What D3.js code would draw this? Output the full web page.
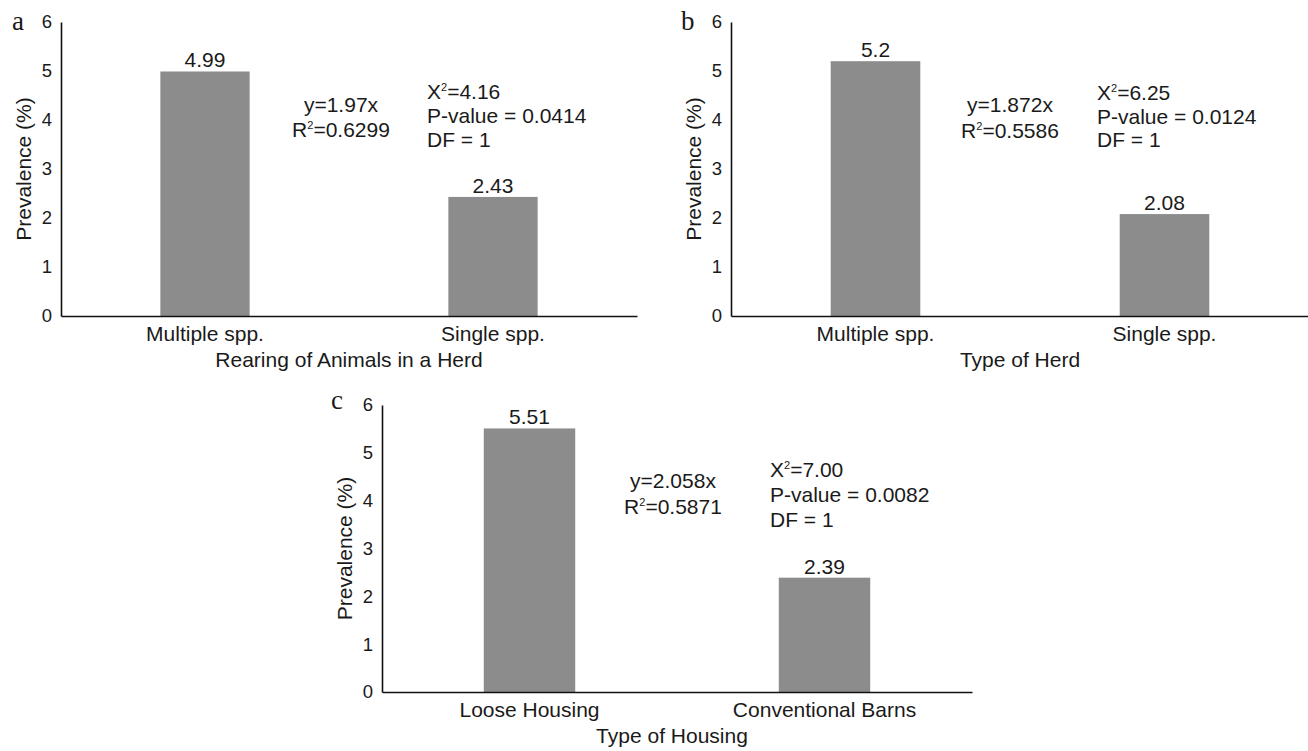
<!DOCTYPE html>
<html>
<head>
<meta charset="utf-8">
<script src="https://cdn.jsdelivr.net/npm/d3@7"></script>
<style>
	body { margin: 0; background: #fff; }
	svg text { font-family: 'Liberation Sans', Arial, sans-serif; fill: #1a1a1a; }
	.panel-letter { font-family: 'Liberation Serif', 'Times New Roman', serif; }
</style>
</head>
<body>
<div id="chart"></div>
<script>
// values
const yTicks = [0, 1, 2, 3, 4, 5, 6];

const categoriesA = ['Multiple spp.', 'Single spp.'];
const valuesA = [4.99, 2.43];
const regressionA = ['y=1.97x', '0.6299'];
const statsA = ['4.16', '0.0414', '1'];

const categoriesB = ['Multiple spp.', 'Single spp.'];
const valuesB = [5.2, 2.08];
const regressionB = ['y=1.872x', '0.5586'];
const statsB = ['6.25', '0.0124', '1'];

const categoriesC = ['Loose Housing', 'Conventional Barns'];
const valuesC = [5.51, 2.39];
const regressionC = ['y=2.058x', '0.5871'];
const statsC = ['7.00', '0.0082', '1'];

const xTitles = ['Rearing of Animals in a Herd', 'Type of Herd', 'Type of Housing'];
const panelLetters = ['a', 'b', 'c'];

const svg = d3.select('#chart').append('svg').attr('width', 1308).attr('height', 751);

function drawPanel(opts) {
	const x = d3
		.scaleBand()
		.domain(opts.categories)
		.range([opts.left, opts.right])
		.paddingInner(0.69)
		.paddingOuter(0.345);
	const y = d3.scaleLinear().domain([0, 6]).range([opts.bottom, opts.top]);
	const g = svg.append('g');

	g.selectAll('rect.bar')
		.data(opts.values)
		.enter()
		.append('rect')
		.attr('class', 'bar')
		.attr('x', (d, i) => x(opts.categories[i]))
		.attr('width', x.bandwidth())
		.attr('y', (d) => y(d))
		.attr('height', (d) => y(0) - y(d))
		.attr('fill', '#8c8c8c');

	g.selectAll('text.val')
		.data(opts.values)
		.enter()
		.append('text')
		.attr('class', 'val')
		.attr('x', (d, i) => x(opts.categories[i]) + x.bandwidth() / 2)
		.attr('y', (d) => y(d) - 4)
		.attr('text-anchor', 'middle')
		.style('font-size', '21px')
		.text((d) => String(d));

	const yAxis = g
		.append('g')
		.attr('transform', `translate(${opts.left},0)`)
		.call(d3.axisLeft(y).tickValues(yTicks).tickFormat(d3.format('d')).tickSize(0).tickPadding(9));
	yAxis.select('.domain').attr('stroke', '#111').attr('stroke-width', 1.6);
	yAxis.selectAll('text').style('font-size', '18.5px').attr('fill', '#1a1a1a');

	const xAxis = g
		.append('g')
		.attr('transform', `translate(0,${opts.bottom})`)
		.call(d3.axisBottom(x).tickSize(0).tickPadding(10));
	xAxis.select('.domain').attr('stroke', '#111').attr('stroke-width', 1.6);
	xAxis.selectAll('text').style('font-size', '21px').attr('fill', '#1a1a1a');

	g.append('text')
		.attr('x', (opts.left + opts.right) / 2 + opts.titleShift)
		.attr('y', opts.bottom + 51)
		.attr('text-anchor', 'middle')
		.style('font-size', '21px')
		.text(opts.xTitle);

	g.append('text')
		.attr('transform', 'rotate(-90)')
		.attr('x', -(opts.top + opts.bottom) / 2)
		.attr('y', opts.left - 30)
		.attr('text-anchor', 'middle')
		.style('font-size', '21px')
		.text('Prevalence (%)');

	g.append('text')
		.attr('class', 'panel-letter')
		.attr('x', opts.letterX)
		.attr('y', opts.letterY)
		.style('font-size', '27px')
		.text(opts.letter);

	// regression note
	const reg = g.append('text').attr('text-anchor', 'middle').style('font-size', '21px');
	reg.append('tspan').attr('x', opts.regX).attr('y', opts.regY[0]).text(opts.regression[0]);
	const r2 = reg.append('tspan').attr('x', opts.regX).attr('y', opts.regY[1]);
	r2.append('tspan').text('R');
	r2.append('tspan').attr('dy', -8).style('font-size', '11px').text('2');
	r2.append('tspan').attr('dy', 8).text('=' + opts.regression[1]);

	// chi-square note
	const st = g.append('text').style('font-size', '21px');
	const l1 = st.append('tspan').attr('x', opts.statX).attr('y', opts.statY[0]);
	l1.append('tspan').text('X');
	l1.append('tspan').attr('dy', -8).style('font-size', '11px').text('2');
	l1.append('tspan').attr('dy', 8).text('=' + opts.stats[0]);
	st.append('tspan').attr('x', opts.statX).attr('y', opts.statY[1]).text('P-value = ' + opts.stats[1]);
	st.append('tspan').attr('x', opts.statX).attr('y', opts.statY[2]).text('DF = ' + opts.stats[2]);
}

drawPanel({
	categories: categoriesA, values: valuesA, regression: regressionA, stats: statsA,
	xTitle: xTitles[0], letter: panelLetters[0],
	left: 61, right: 637, top: 22, bottom: 316, titleShift: 0,
	letterX: 12, letterY: 30,
	regX: 341, regY: [112, 137], statX: 427, statY: [99, 123, 147],
});

drawPanel({
	categories: categoriesB, values: valuesB, regression: regressionB, stats: statsB,
	xTitle: xTitles[1], letter: panelLetters[1],
	left: 731, right: 1309, top: 22, bottom: 316, titleShift: 0,
	letterX: 681, letterY: 30,
	regX: 1010, regY: [112, 138], statX: 1097, statY: [100, 124, 147],
});

drawPanel({
	categories: categoriesC, values: valuesC, regression: regressionC, stats: statsC,
	xTitle: xTitles[2], letter: panelLetters[2],
	left: 382, right: 972, top: 405, bottom: 692, titleShift: -5,
	letterX: 331, letterY: 409,
	regX: 673, regY: [488, 514], statX: 770, statY: [477, 502, 527],
});
</script>
</body>
</html>
